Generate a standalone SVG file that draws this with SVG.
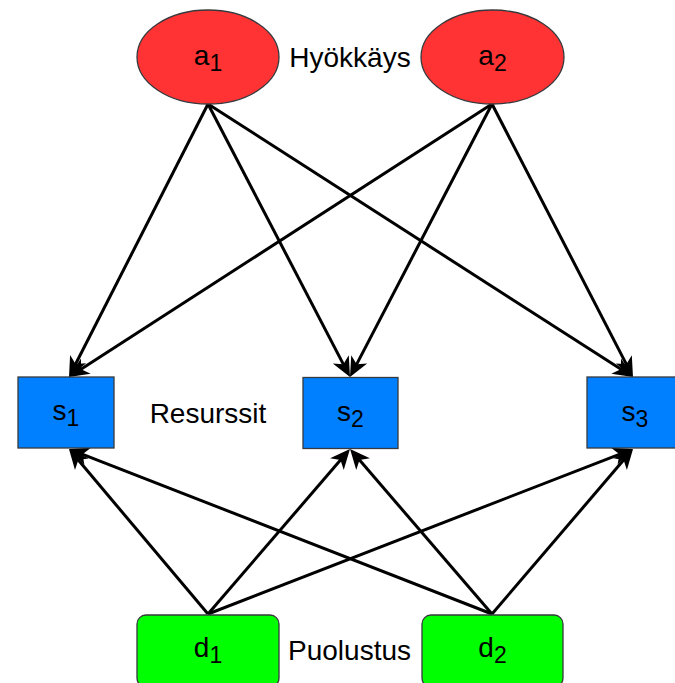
<svg xmlns="http://www.w3.org/2000/svg" width="675" height="683" viewBox="0 0 675 683">
  <defs>
    <marker id="arrow" markerUnits="userSpaceOnUse" markerWidth="20" markerHeight="18" refX="15" refY="9" orient="auto" overflow="visible">
      <path d="M0,0 L20,9 L0,18 L5.5,9 Z" fill="#000"/>
    </marker>
    <style>
      .att { fill: #FF3333; stroke: #36393d; stroke-width: 1.3; }
      .res { fill: #007FFF; stroke: #36393d; stroke-width: 1.3; }
      .def { fill: #00FF00; stroke: #36393d; stroke-width: 1.3; }
      text { font-family: "Liberation Sans", Arial, sans-serif; font-size: 28px; fill: #000; text-anchor: middle; }
      .sub { font-size: 23px; }
      .edge { stroke: #000; stroke-width: 3; fill: none; marker-end: url(#arrow); }
    </style>
  </defs>
  <rect width="675" height="683" fill="#fff"/>

  <g id="connectors">
    <line class="edge" x1="208" y1="104" x2="71.3" y2="372.5"/>
    <line class="edge" x1="208" y1="104" x2="347.7" y2="372.6"/>
    <line class="edge" x1="208" y1="104" x2="628.8" y2="374.3"/>
    <line class="edge" x1="492" y1="104" x2="73.2" y2="374.3"/>
    <line class="edge" x1="492" y1="104" x2="352.3" y2="372.6"/>
    <line class="edge" x1="492" y1="104" x2="630.7" y2="372.6"/>
    <line class="edge" x1="208" y1="614" x2="72.2" y2="452.8"/>
    <line class="edge" x1="208" y1="614" x2="346.7" y2="452.8"/>
    <line class="edge" x1="208" y1="614" x2="628.3" y2="450.8"/>
    <line class="edge" x1="492" y1="614" x2="73.7" y2="450.8"/>
    <line class="edge" x1="492" y1="614" x2="353.3" y2="452.8"/>
    <line class="edge" x1="492" y1="614" x2="629.8" y2="452.8"/>
  </g>

  <g id="a1">
    <ellipse class="att" cx="208" cy="57" rx="71" ry="47"/>
    <text x="208" y="65">a<tspan class="sub" dy="6">1</tspan></text>
  </g>
  <g id="a2">
    <ellipse class="att" cx="492.5" cy="57" rx="71.5" ry="47"/>
    <text x="492.5" y="65">a<tspan class="sub" dy="6">2</tspan></text>
  </g>

  <g id="s1">
    <rect class="res" x="18" y="377" width="96" height="71"/>
    <text x="66" y="420">s<tspan class="sub" dy="6">1</tspan></text>
  </g>
  <g id="s2">
    <rect class="res" x="303" y="377.5" width="95" height="71"/>
    <text x="350.5" y="421">s<tspan class="sub" dy="6">2</tspan></text>
  </g>
  <g id="s3">
    <rect class="res" x="587" y="377" width="96" height="71"/>
    <text x="635" y="421">s<tspan class="sub" dy="6">3</tspan></text>
  </g>

  <g id="d1">
    <rect class="def" x="137" y="615" width="142" height="72" rx="9" ry="9"/>
    <text x="208" y="657">d<tspan class="sub" dy="6">1</tspan></text>
  </g>
  <g id="d2">
    <rect class="def" x="422" y="615" width="141" height="72" rx="9" ry="9"/>
    <text x="492.5" y="657">d<tspan class="sub" dy="6">2</tspan></text>
  </g>

  <g id="labels">
    <text x="350" y="67">Hyökkäys</text>
    <text x="208" y="423">Resurssit</text>
    <text x="349.5" y="660">Puolustus</text>
  </g>
</svg>
